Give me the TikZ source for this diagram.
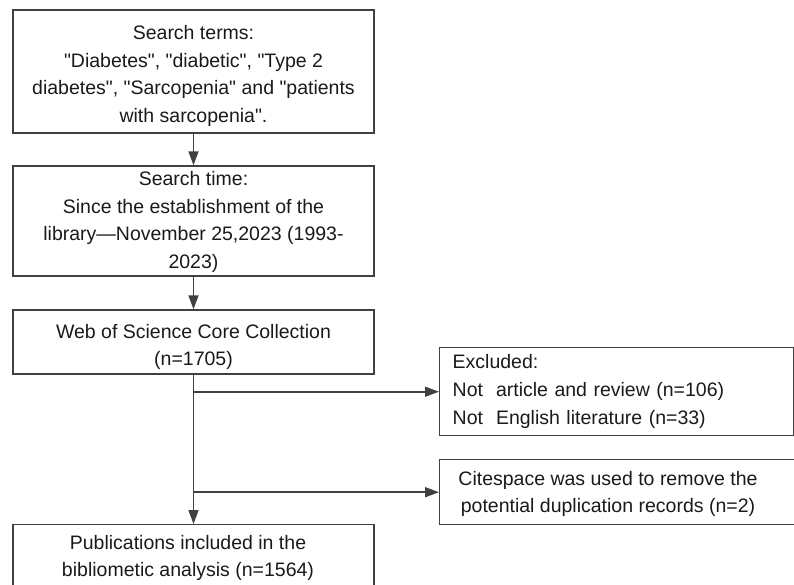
\documentclass[tikz,border=0pt]{standalone}
\usepackage{fontspec}
\setmainfont{Liberation Sans}
\usetikzlibrary{arrows.meta}
\definecolor{ln}{HTML}{404040}
\definecolor{tx}{HTML}{1A1A1A}
\newcommand{\diagfont}{\fontsize{19.5pt}{27.8pt}\selectfont}
\newcommand{\sq}{\textquotedbl}
\begin{document}
\begin{tikzpicture}[x=1pt,y=-1pt,
  box/.style={draw=ln, line width=1.4pt, rectangle, inner sep=0pt, align=center, font=\diagfont, text=tx},
  txt/.style={inner sep=0pt, align=center, font=\diagfont, text=tx},
  arr/.style={draw=ln, line width=1.6pt, -{Triangle[length=14pt,width=10pt]}}]
\useasboundingbox (0,0) rectangle (794,585);
\node[box, minimum width=361pt, minimum height=123pt] (b1) at (193.5,71.5) {};
\node[txt] (b1t) at (193.5,76) {Search terms:\\ \sq Diabetes\sq, \sq diabetic\sq, \sq Type 2\\ diabetes\sq, \sq Sarcopenia\sq\ and \sq patients\\ with sarcopenia\sq.};
\node[box, minimum width=361pt, minimum height=110pt] (b2) at (193.5,221) {};
\node[txt] (b2t) at (193.5,222) {Search time:\\ Since the establishment of the\\ library\textemdash November 25,2023 (1993-\\ 2023)};
\node[box, minimum width=361pt, minimum height=64pt] (b3) at (193.5,342) {};
\node[txt] (b3t) at (193.5,347) {Web of Science Core Collection\\ (n=1705)};
\node[box, minimum width=361pt, minimum height=80pt, anchor=north] (b4) at (193.5,524) {};
\node[txt] (b4t) at (188,558) {Publications included in the\\ bibliometic analysis (n=1564)};
\node[box, anchor=north west, minimum height=88pt, text width=328pt, inner xsep=13pt, align=left] (ex) at (439,347)
  {Excluded:\\ Not\ \ article and review (n=106)\\ Not\ \ English literature (n=33)};
\node[box, anchor=north west, minimum width=370pt, minimum height=65pt] (cs) at (439,459) {};
\node[txt] (cst) at (608,494) {Citespace was used to remove the\\ potential duplication records (n=2)};
\draw[arr] (b1.south) -- (b2.north);
\draw[arr] (b2.south) -- (b3.north);
\draw[arr] (b3.south) -- (b4.north);
\draw[arr] (b3.south |- ex.west) -- (ex.west);
\draw[arr] (b3.south |- cs.west) -- (cs.west);
\end{tikzpicture}
\end{document}
